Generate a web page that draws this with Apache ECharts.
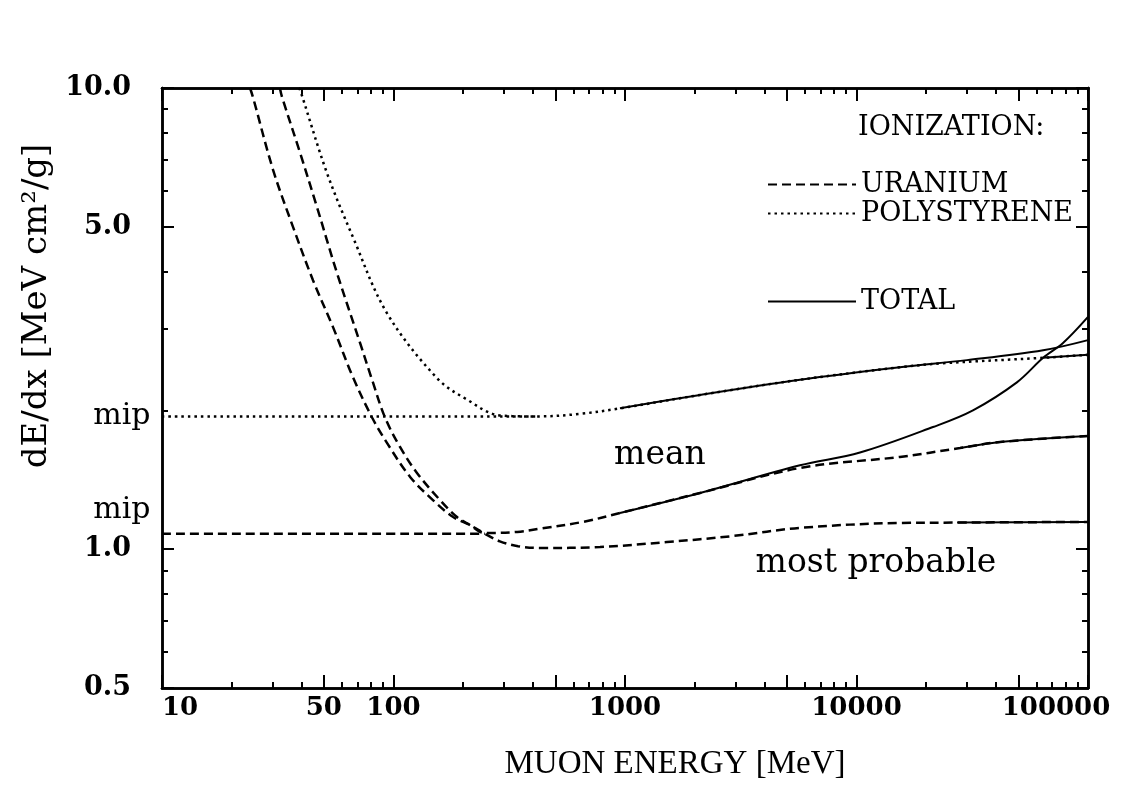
<!DOCTYPE html>
<html><head><meta charset="utf-8">
<script src="https://cdn.jsdelivr.net/npm/echarts@6/dist/echarts.min.js"></script>
<style>html,body{margin:0;padding:0;background:#fff}#c{width:1137px;height:800px}</style>
</head><body><div id="c"></div>
<script>
// ---- tick values / labels ----
const xTickLabels = [10, 50, 100, 1000, 10000, 100000];
const xMajorTicks = [10, 50, 100, 500, 1000, 5000, 10000, 50000, 100000];
const xMinorTicks = [20,30,40,60,70,80,90,200,300,400,600,700,800,900,2000,3000,4000,6000,7000,8000,9000,20000,30000,40000,60000,70000,80000,90000];
const yTickLabels = [0.5, 1, 5, 10];
const yMinorTicks = [0.6,0.7,0.8,0.9,2,3,4,6,7,8,9];

// ---- data: [muon energy MeV, dE/dx MeV cm2/g] ----
const polyIonMean = [[39,10],[39.5,9.9],[51.6,6.54],[66.8,4.75],[93.7,3.25],[154,2.35],[208,2.11],[288,1.95],[417,1.94],[639,1.965],[951,2.02],[2110,2.16],[5700,2.33],[15400,2.48],[23650,2.53],[64000,2.60],[100000,2.64]];
const polyTotal = [[951,2.02],[2110,2.16],[5700,2.33],[15400,2.48],[30000,2.57],[64000,2.70],[100000,2.84]];
const polyIonTail = [[64000,2.60],[100000,2.64]];
const polyMip = [[10,1.94],[417,1.94]];

const uranIonMean = [[32.3,10],[33,9.56],[39.5,7.23],[46.7,5.52],[57,3.97],[71.7,2.80],[80.8,2.33],[91.9,1.93],[106.7,1.666],[126.3,1.463],[158.8,1.278],[188,1.174],[214,1.128],[248,1.084],[342,1.09],[429,1.108],[658,1.146],[951,1.198],[2110,1.324],[5700,1.50],[15400,1.585],[28000,1.657],[41700,1.708],[100000,1.76]];
const uranIonMostProb = [[24,10],[24.7,9.56],[30.2,6.64],[36.8,5.0],[44.9,3.83],[54.8,3.03],[66.8,2.36],[80.8,1.93],[93.7,1.70],[118,1.434],[148,1.278],[181,1.174],[214,1.128],[248,1.08],[288,1.04],[345,1.015],[429,1.006],[780,1.011],[1517,1.036],[2930,1.068],[5700,1.112],[15400,1.14],[27200,1.142],[100000,1.146]];
const uranTotalMean = [[951,1.198],[2110,1.324],[5700,1.52],[10350,1.62],[21400,1.84],[31850,2.00],[49300,2.30],[64000,2.60],[78000,2.80],[100000,3.19]];
const uranMeanTail = [[28000,1.657],[41700,1.708],[100000,1.76]];
const uranMostProbTail = [[27200,1.142],[100000,1.146]];
const uranMip = [[10,1.08],[248,1.08]];

const mipLabels = [[10,1.94],[10,1.08]];
const textNotes = [{name:'mean', value:[1416,1.60]}, {name:'most probable', value:[12130,0.933]}];

const SERIF = '"DejaVu Serif", "Liberation Serif", serif';
const BLACK = '#000';
const DASH = [9,5];
const DOT = [2.5,4];

function xAxisDef(pos, ticks, len, withLabels, name) {
  const a = {
    type: 'log', logBase: 10, min: 10, max: 100000, position: pos,
    axisLine: {show: true, lineStyle: {color: BLACK, width: 2.5}},
    axisTick: {show: true, inside: true, length: len, customValues: ticks, lineStyle: {color: BLACK, width: 2}},
    minorTick: {show: false}, splitLine: {show: false},
    axisLabel: {show: false}
  };
  if (withLabels) {
    a.axisLabel = {
      show: true, customValues: xTickLabels, margin: 7,
      color: BLACK, fontFamily: SERIF, fontWeight: 'bold', fontSize: 26,
      alignMinLabel: 'left',
      formatter: v => (Math.abs(v - 100000) < 1 ? '{a|100000}{s|}' : String(Math.round(v))),
      rich: {a: {color: BLACK, fontFamily: SERIF, fontWeight: 'bold', fontSize: 26}, s: {width: 64}}
    };
  }
  if (name) {
    a.name = '{s|}' + name; a.nameLocation = 'middle'; a.nameGap = 60;
    a.nameTextStyle = {color: BLACK, fontFamily: '"Liberation Serif", serif', fontSize: 33,
      rich: {s: {width: 100}}};
  }
  return a;
}
function yAxisDef(pos, ticks, len, withLabels, name) {
  const a = {
    type: 'log', logBase: 10, min: 0.5, max: 10, position: pos,
    axisLine: {show: true, lineStyle: {color: BLACK, width: 2.5}},
    axisTick: {show: true, inside: true, length: len, customValues: ticks, lineStyle: {color: BLACK, width: 2}},
    minorTick: {show: false}, splitLine: {show: false},
    axisLabel: {show: false}
  };
  if (withLabels) {
    a.axisLabel = {show: true, customValues: yTickLabels, margin: 31, color: BLACK,
      fontFamily: SERIF, fontWeight: 'bold', fontSize: 27, formatter: v => Number(v).toFixed(1)};
  }
  if (name) {
    a.name = '{s|}' + name; a.nameLocation = 'middle'; a.nameGap = 103; a.nameRotate = 90;
    a.nameTextStyle = {color: BLACK, fontFamily: SERIF, fontSize: 34, rich: {s: {width: 164}}};
  }
  return a;
}

function lineSeries(name, data, type, width) {
  return {
    name: name, type: 'line', data: data, xAxisIndex: 0, yAxisIndex: 0,
    smooth: 0.35, symbol: 'none', showSymbol: false, silent: true, animation: false,
    lineStyle: {color: BLACK, width: width, type: type},
    itemStyle: {color: BLACK}
  };
}

const legendCommon = {
  orient: 'vertical', left: 762, itemWidth: 88, itemHeight: 14, selectedMode: false,
  itemStyle: {opacity: 0, color: 'transparent', borderWidth: 0},
  textStyle: {color: BLACK, fontFamily: SERIF, fontSize: 27}
};

const chart = echarts.init(document.getElementById('c'), null, {renderer: 'canvas'});
chart.setOption({
  backgroundColor: '#fff',
  animation: false,
  grid: {left: 162, right: 49, top: 88, bottom: 112, containLabel: false, outerBoundsMode: 'none'},
  title: {text: 'IONIZATION:', left: 853, top: 109,
    textStyle: {color: BLACK, fontFamily: SERIF, fontWeight: 'normal', fontSize: 27}},
  legend: [
    Object.assign({data: ['URANIUM', 'POLYSTYRENE'], top: 166, itemGap: 2}, legendCommon),
    Object.assign({data: ['TOTAL'], top: 283}, legendCommon)
  ],
  xAxis: [
    xAxisDef('bottom', xMajorTicks, 13, true, 'MUON ENERGY [MeV]'),
    xAxisDef('bottom', xMinorTicks, 6, false),
    xAxisDef('top', xMajorTicks, 13, false),
    xAxisDef('top', xMinorTicks, 6, false)
  ],
  yAxis: [
    yAxisDef('left', yTickLabels, 12, true, 'dE/dx [MeV cm²/g]'),
    yAxisDef('left', yMinorTicks, 6, false),
    yAxisDef('right', yTickLabels, 12, false),
    yAxisDef('right', yMinorTicks, 6, false)
  ],
  series: [
    lineSeries('POLYSTYRENE', polyIonMean, DOT, 2.5),
    lineSeries('POLYSTYRENE', polyMip, DOT, 2.5),
    lineSeries('URANIUM', uranIonMean, DASH, 2.5),
    lineSeries('URANIUM', uranIonMostProb, DASH, 2.5),
    lineSeries('URANIUM', uranMip, DASH, 2.5),
    lineSeries('TOTAL', polyTotal, 'solid', 2),
    lineSeries('TOTAL', uranTotalMean, 'solid', 2),
    lineSeries('TOTAL', polyIonTail, 'solid', 2),
    lineSeries('TOTAL', uranMeanTail, 'solid', 2),
    lineSeries('TOTAL', uranMostProbTail, 'solid', 2),
    {
      name: 'mipLabels', type: 'scatter', data: mipLabels, symbolSize: 1, clip: false, silent: true,
      itemStyle: {color: 'rgba(0,0,0,0)'},
      label: {show: true, position: 'left', distance: 11, formatter: 'mip', color: BLACK, opacity: 1,
        fontFamily: SERIF, fontSize: 30},
      labelLayout: function (p) { return p.dataIndex === 1 ? {dy: -24} : {}; }
    },
    {
      name: 'notes', type: 'scatter', data: textNotes, symbolSize: 1, clip: false, silent: true,
      itemStyle: {color: 'rgba(0,0,0,0)'},
      label: {show: true, position: 'inside', formatter: p => p.name, color: BLACK, opacity: 1,
        fontFamily: SERIF, fontSize: 33}
    }
  ]
});
</script>
</body></html>
